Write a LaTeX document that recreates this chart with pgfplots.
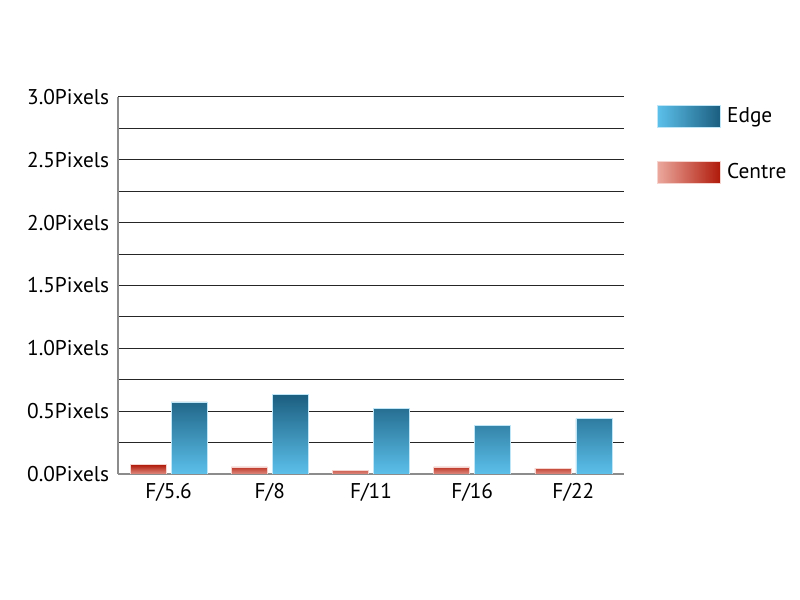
\documentclass[border=0pt]{standalone}
\usepackage{pgfplots}
\pgfplotsset{compat=1.18}
\usepackage{fontspec}
\setmainfont{PT Sans}
\definecolor{edgeDark}{HTML}{1B5E80}
\definecolor{edgeLight}{HTML}{5CC0EA}
\definecolor{cenDark}{HTML}{B01A0A}
\definecolor{cenLight}{HTML}{EBA89D}
\begin{document}
\begin{tikzpicture}
\path (0,0) rectangle (600pt,450pt);
\begin{axis}[
  at={(88.5pt,94.5pt)}, anchor=south west,
  scale only axis, width=379.5pt, height=282.75pt,
  xmin=-0.5, xmax=4.5, ymin=0, ymax=3,
  axis x line=bottom, axis y line=left,
  axis line style={draw=gray!90, line width=1pt, -},
  xtick={0,1,2,3,4},
  xticklabels={F/5.6,F/8,F/11,F/16,F/22},
  x tick style={draw=none},
  extra x ticks={0.5,1.5,2.5,3.5,4.5},
  extra x tick labels={},
  extra x tick style={tick style={draw=gray!90, line width=1pt}, major tick length=8pt, tick align=inside, grid=none},
  ytick={0,0.5,1,1.5,2,2.5,3},
  minor ytick={0.25,0.75,1.25,1.75,2.25,2.75},
  y tick style={draw=none},
  ymajorgrids, yminorgrids,
  major grid style={black!85, line width=0.75pt},
  minor grid style={black!85, line width=0.75pt},
  yticklabel={\pgfmathprintnumber[fixed,fixed zerofill,precision=1]{\tick}Pixels},
  /pgf/number format/assume math mode=true,
  tick label style={font=\fontsize{16}{19}\selectfont},
  yticklabel style={xshift=-1pt},
  xticklabel style={yshift=-1pt},
  legend style={at={(1,1)}, anchor=north west, xshift=24.75pt, yshift=-6pt,
    draw=none, fill=none, inner sep=0pt, row sep=25.75pt,
    font=\fontsize{16}{19}\selectfont,
    nodes={inner xsep=5pt, inner ysep=0pt},
    /tikz/every even column/.append style={column sep=0pt}},
  legend cell align=left,
]
\addplot[ybar, bar width=27pt, bar shift=15.4pt, draw=edgeLight!40!white, line width=0.4pt,
  top color=edgeDark, bottom color=edgeLight,
  legend image code/.code={\fill[left color=edgeLight, right color=edgeDark] (0pt,-8pt) rectangle (47pt,8pt);}]
  coordinates {(0,0.573) (1,0.633) (2,0.520) (3,0.384) (4,0.440)};
\addlegendentry{Edge}
\addplot[ybar, bar width=27pt, bar shift=-15.4pt, draw=cenLight!50!white, line width=0.4pt,
  top color=cenDark, bottom color=cenLight!80!cenDark,
  legend image code/.code={\fill[left color=cenLight, right color=cenDark] (0pt,-8pt) rectangle (47pt,8pt);}]
  coordinates {(0,0.074) (1,0.056) (2,0.028) (3,0.056) (4,0.045)};
\addlegendentry{Centre}
\end{axis}
\end{tikzpicture}
\end{document}
